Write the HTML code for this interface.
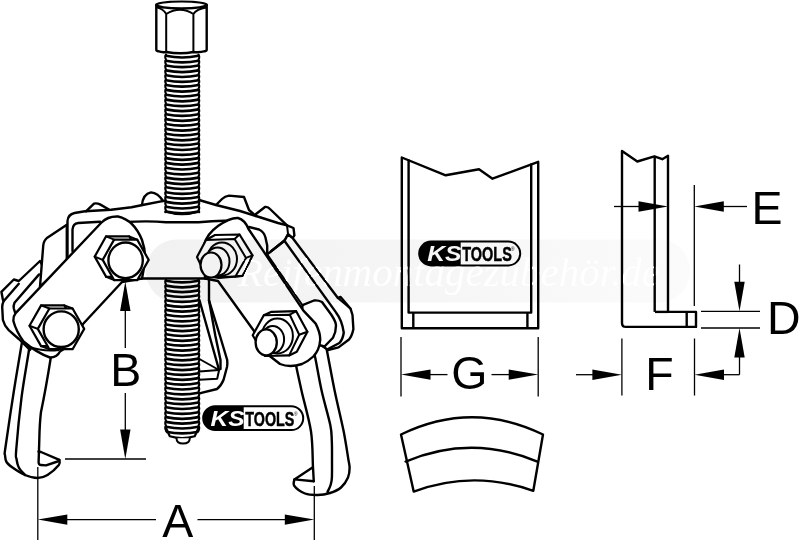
<!DOCTYPE html>
<html><head><meta charset="utf-8"><title>KS Tools</title>
<style>
html,body{margin:0;padding:0;background:#fff;}
body{width:800px;height:552px;overflow:hidden;}
svg{display:block;font-family:"Liberation Sans",sans-serif;}
</style></head><body>
<svg width="800" height="552" viewBox="0 0 800 552">
<rect width="800" height="552" fill="#fff"/>
<path d="M401.8,157.5 L445.7,175.3 L479.0,169.2 L492.5,178.7 L538.2,161.8 L538.2,328.3 L401.8,328.3 Z" fill="none" stroke="#000" stroke-width="2.4" stroke-linejoin="round" stroke-linecap="round" />
<path d="M408.6,160.5 L408.6,312.6 L531.2,312.6 L531.2,164.5" fill="none" stroke="#000" stroke-width="2.4" stroke-linejoin="round" stroke-linecap="round" />
<line x1="413.3" y1="312.6" x2="413.3" y2="328.3" stroke="#000" stroke-width="2.4"/>
<line x1="527.4" y1="312.6" x2="527.4" y2="328.3" stroke="#000" stroke-width="2.4"/>
<rect x="419.2" y="241.6" width="101" height="23.8" rx="11.9" fill="#fff" stroke="#000" stroke-width="2"/>
<path d="M431.09999999999997,241.6 H460.7 V265.4 H431.09999999999997 A11.9,11.9 0 0 1 431.09999999999997,241.6 Z" fill="#000"/>
<text x="461.5" y="261.1" font-size="21.4" font-weight="bold" font-style="italic" fill="#fff" text-anchor="end" textLength="34.3" lengthAdjust="spacingAndGlyphs">KS</text>
<text x="462.3" y="260.8" font-size="20.7" font-weight="bold" fill="#000" stroke="#000" stroke-width="0.5" textLength="49.5" lengthAdjust="spacingAndGlyphs">TOOLS</text>
<text x="510.9" y="251.1" font-size="4.8" fill="#000">®</text>
<line x1="401" y1="337" x2="401" y2="396.5" stroke="#000" stroke-width="1.3"/>
<line x1="538.2" y1="337" x2="538.2" y2="396.5" stroke="#000" stroke-width="1.3"/>
<polygon points="401,374.6 430.5,369.4 430.5,379.8" fill="#000"/>
<polygon points="538.2,374.6 508.7,379.8 508.7,369.4" fill="#000"/>
<line x1="430" y1="374.6" x2="447.5" y2="374.6" stroke="#000" stroke-width="1.3"/>
<line x1="491.5" y1="374.6" x2="509" y2="374.6" stroke="#000" stroke-width="1.3"/>
<text x="469.3" y="388.6" font-size="46.5" text-anchor="middle">G</text>
<path d="M401,434.5 Q472,400 543,434.5 L533.3,490.8 Q473,469.5 413.7,491.6 Z" fill="none" stroke="#000" stroke-width="2.4" stroke-linejoin="round" stroke-linecap="round" />
<path d="M405.6,461.6 Q471.5,434 537.4,461.6" fill="none" stroke="#000" stroke-width="2.4" stroke-linejoin="round" stroke-linecap="round" />
<path d="M622,151 L637.3,161.5 L654.4,156.3 L662.3,159.2 L668,155.8 L668,311.9 L696,311.9 L696,326.9 L626,326.9 Q622,326.9 622,322.9 Z" fill="none" stroke="#000" stroke-width="2.4" stroke-linejoin="round" stroke-linecap="round" />
<line x1="654.7" y1="156.3" x2="654.7" y2="311.9" stroke="#000" stroke-width="2.4"/>
<line x1="655" y1="311.9" x2="668" y2="311.9" stroke="#000" stroke-width="2.4"/>
<line x1="686.7" y1="311.9" x2="686.7" y2="326.9" stroke="#000" stroke-width="2.4"/>
<line x1="694.3" y1="185" x2="694.3" y2="306" stroke="#000" stroke-width="1.3"/>
<line x1="614" y1="206.5" x2="640" y2="206.5" stroke="#000" stroke-width="1.3"/>
<polygon points="668,206.5 638.5,211.7 638.5,201.3" fill="#000"/>
<polygon points="694.3,206.5 723.8,201.3 723.8,211.7" fill="#000"/>
<line x1="722" y1="206.5" x2="747" y2="206.5" stroke="#000" stroke-width="1.3"/>
<text x="766.9" y="223.6" font-size="46.5" text-anchor="middle">E</text>
<line x1="701" y1="311.3" x2="760" y2="311.3" stroke="#000" stroke-width="1.3"/>
<line x1="701" y1="328" x2="760" y2="328" stroke="#000" stroke-width="1.3"/>
<line x1="739.5" y1="264.5" x2="739.5" y2="283" stroke="#000" stroke-width="1.3"/>
<polygon points="739.5,311.3 734.3,281.8 744.7,281.8" fill="#000"/>
<polygon points="739.5,328 744.7,357.5 734.3,357.5" fill="#000"/>
<line x1="739.5" y1="356" x2="739.5" y2="374.7" stroke="#000" stroke-width="1.3"/>
<text x="783.9" y="334.2" font-size="46.5" text-anchor="middle">D</text>
<line x1="621.9" y1="338.5" x2="621.9" y2="395.5" stroke="#000" stroke-width="1.3"/>
<line x1="694.5" y1="338.5" x2="694.5" y2="395.5" stroke="#000" stroke-width="1.3"/>
<line x1="576" y1="374.7" x2="594" y2="374.7" stroke="#000" stroke-width="1.3"/>
<polygon points="621.9,374.7 592.4,379.9 592.4,369.5" fill="#000"/>
<polygon points="694.5,374.7 724.0,369.5 724.0,379.9" fill="#000"/>
<line x1="722" y1="374.7" x2="739.5" y2="374.7" stroke="#000" stroke-width="1.3"/>
<text x="659.5" y="389.7" font-size="46.5" text-anchor="middle">F</text>
<path d="M209,277.6 L209,300.4 L215.4,336 L220.5,360 L220.5,369" fill="none" stroke="#000" stroke-width="2.4" stroke-linejoin="round" stroke-linecap="round" />
<path d="M209,300.4 L220,336 L227.2,360 Q227.6,364 227,367 L223.5,380 Q221,386 217,389 L199.4,393.4" fill="none" stroke="#000" stroke-width="2.4" stroke-linejoin="round" stroke-linecap="round" />
<path d="M199.4,300.0 L219.0,369.8" fill="none" stroke="#000" stroke-width="2.4" stroke-linejoin="round" stroke-linecap="round" />
<path d="M199.4,359.0 L219.0,370.0 L199.4,371.5" fill="none" stroke="#000" stroke-width="2" stroke-linejoin="round" stroke-linecap="round" />
<path d="M219.0,370.5 L217.2,378.8 L199.4,379.8" fill="none" stroke="#000" stroke-width="2" stroke-linejoin="round" stroke-linecap="round" />
<path d="M24.0,335.0 C23.6,336.7 23.2,335.6 21.5,345.0 C19.8,354.4 16.5,374.5 13.8,391.5 C11.1,408.5 7.0,436.4 5.5,447.0 C4.0,457.6 4.8,452.5 5.0,455.0 C5.2,457.5 5.2,459.9 6.5,462.0 C7.8,464.1 9.4,465.3 12.5,467.5 C15.6,469.7 20.8,473.2 25.0,475.0 C29.2,476.8 33.8,478.0 37.5,478.0 C41.2,478.0 44.0,477.2 47.5,475.0 C51.0,472.8 56.8,467.5 58.8,465.0 C60.7,462.5 59.3,460.8 59.4,460.0" fill="#fff" stroke="#000" stroke-width="2.4" stroke-linejoin="round" stroke-linecap="round" />
<path d="M30.0,340.0 C29.8,341.7 30.4,340.4 29.0,350.0 C27.6,359.6 23.6,381.0 21.5,397.7 C19.4,414.4 17.0,439.8 16.2,450.0 C15.4,460.2 16.1,456.1 16.5,459.0 C16.9,461.9 17.3,464.8 18.8,467.5 C20.2,470.2 24.0,473.8 25.0,475.0" fill="none" stroke="#000" stroke-width="2.4" stroke-linejoin="round" stroke-linecap="round" />
<path d="M53,345 L50.6,358.75 Q46,388 40.9,412.5 Q39.6,424 39.3,440 L38.6,462.5 Q38.8,465 41,465 L46,465.4 L59,461" fill="none" stroke="#000" stroke-width="2.4" stroke-linejoin="round" stroke-linecap="round" />
<path d="M38.5,451.5 L41,452 L59.4,459.8" fill="none" stroke="#000" stroke-width="2.4" stroke-linejoin="round" stroke-linecap="round" />
<path d="M324.0,340.0 C324.4,341.4 324.7,339.9 326.5,348.5 C328.3,357.1 331.9,377.7 334.8,391.5 C337.7,405.3 341.4,420.2 343.7,431.5 C345.9,442.8 347.3,452.9 348.3,459.0 C349.3,465.1 349.7,464.9 349.6,468.0 C349.6,471.1 349.4,474.2 348.0,477.5 C346.6,480.8 344.0,484.9 341.0,487.5 C338.0,490.1 333.9,491.8 330.0,493.0 C326.1,494.2 321.7,494.9 317.5,495.0 C313.3,495.1 308.9,495.0 305.0,493.5 C301.1,492.0 296.2,488.4 294.4,486.0 C292.6,483.6 294.4,480.5 294.4,479.4" fill="#fff" stroke="#000" stroke-width="2.4" stroke-linejoin="round" stroke-linecap="round" />
<path d="M313.5,350.0 C313.8,351.5 314.1,352.1 315.5,359.0 C316.9,365.9 319.3,380.5 321.8,391.5 C324.3,402.5 328.6,416.8 330.3,425.0 C332.0,433.2 331.5,435.3 331.8,441.0 C332.1,446.7 332.0,452.9 332.0,459.0 C332.0,465.1 332.1,473.2 331.9,477.5 C331.7,481.8 331.3,482.6 330.6,485.0 C329.9,487.4 328.0,490.8 327.5,492.0" fill="none" stroke="#000" stroke-width="2.4" stroke-linejoin="round" stroke-linecap="round" />
<path d="M294.0,355.0 C294.5,357.5 295.7,363.9 297.0,370.0 C298.3,376.1 299.4,381.2 301.7,391.5 C304.0,401.8 309.1,418.8 311.0,431.5 C312.9,444.2 312.5,459.2 313.0,467.5 C313.5,475.8 313.6,478.9 313.8,481.2" fill="none" stroke="#000" stroke-width="2.4" stroke-linejoin="round" stroke-linecap="round" />
<path d="M312.5,467.5 L294.4,479.4 L313.8,481.2" fill="none" stroke="#000" stroke-width="2.4" stroke-linejoin="round" stroke-linecap="round" />
<path d="M40,261 L18.8,281 L13.8,279.5 L1.4,291.8 L2.9,299.8 L3.6,301.2 Q2.2,304 2.2,307 L2.9,320 Q4.5,326 8.7,330.2 L18.8,339 L30,350 L60,300 Z" fill="#fff" stroke="#000" stroke-width="2.4" stroke-linejoin="round" stroke-linecap="round" />
<path d="M18.8,283.8 L3.6,301.2" fill="none" stroke="#000" stroke-width="2.4" stroke-linejoin="round" stroke-linecap="round" />
<path d="M39.1,274.4 L14.5,302.7 Q13.2,306 13.8,308.5 L15.2,312.8" fill="none" stroke="#000" stroke-width="2.4" stroke-linejoin="round" stroke-linecap="round" />
<path d="M66.8,224.7 L47.3,237.7 Q43.5,241 43.2,246 L40,286.6 L66.8,262 Z" fill="#fff" stroke="#000" stroke-width="2.4" stroke-linejoin="round" stroke-linecap="round" />
<path d="M256,214 L265,207 Q268,206.5 270,209 L287,225.4 L293.5,228 L294.4,235.4 L292.6,238 L284.4,240.8 L267.2,254.4 L250,240 Z" fill="#fff" stroke="#000" stroke-width="2.4" stroke-linejoin="round" stroke-linecap="round" />
<path d="M287,225.4 L288,233.6 L292.6,238 M288,233.6 L284.4,240.8" fill="none" stroke="#000" stroke-width="2" stroke-linejoin="round" stroke-linecap="round" />
<path d="M267.2,254.4 L284.4,240.8 L288,234.5 L292.6,238 L337.9,298 L340.6,297 L350.6,308.8 L352.5,315 L353.4,329 Q352,336 349,339.5 L338.5,347.4 L328,350 L300,330 Z" fill="#fff" stroke="#000" stroke-width="2.4" stroke-linejoin="round" stroke-linecap="round" />
<path d="M284.4,240.8 L336,312.4 Q342,320 343.75,332.5 Q343,339 339.4,343 L328,349" fill="none" stroke="#000" stroke-width="2.4" stroke-linejoin="round" stroke-linecap="round" />
<path d="M337.9,298 L350.6,308.8" fill="none" stroke="#000" stroke-width="2" stroke-linejoin="round" stroke-linecap="round" />
<path d="M302.5,305.2 L314,300.5 Q318,300 322,302 L331.5,315 Q336,322 336,325.5 Q336,332 333,337.75 L324.5,346.5 L300,340 Z" fill="#fff" stroke="#000" stroke-width="2.4" stroke-linejoin="round" stroke-linecap="round" />
<path d="M67.5,256 L67.5,221 Q68,214.5 74.5,213 L85,211.3 L111,209.8 L131.5,207.2 L142.5,205 L165,200.6 L199,200 L216,205 L240,211 L256,216 L270,221 L270,260 L66.8,270 Z" fill="#fff" stroke="#000" stroke-width="0" stroke-linejoin="round" stroke-linecap="round" />
<path d="M86,211.3 L94,203.6 Q97,203 100,204.4 L109,209.5" fill="#fff" stroke="#000" stroke-width="2.4" stroke-linejoin="round" stroke-linecap="round" />
<path d="M142,205 Q143,194 151,192.4 Q158,193 163,201" fill="#fff" stroke="#000" stroke-width="2.4" stroke-linejoin="round" stroke-linecap="round" />
<path d="M216,205 L222,199 Q225,196 229,195.6 L244,197 L249,210 L256,216" fill="#fff" stroke="#000" stroke-width="2.4" stroke-linejoin="round" stroke-linecap="round" />
<path d="M67.5,256 L67.5,221 Q68,214.5 74.5,213 L85,211.3 L111,209.8 L131.5,207.2 L142.5,205 L165,200.6" fill="none" stroke="#000" stroke-width="2.4" stroke-linejoin="round" stroke-linecap="round" />
<path d="M199,200 L216,205 L240,211 L256,216 L278,223 L287,225.4" fill="none" stroke="#000" stroke-width="2.4" stroke-linejoin="round" stroke-linecap="round" />
<path d="M267.2,254.4 L302.5,305.2" fill="none" stroke="#000" stroke-width="2" stroke-linejoin="round" stroke-linecap="round" />
<path d="M249,227 L259,229.5 Q264,232 265.4,237.2 L267.2,245.4 L267.2,254.4 L284.4,240.8" fill="none" stroke="#000" stroke-width="2.4" stroke-linejoin="round" stroke-linecap="round" />
<path d="M72.5,251 L72.5,229.6 Q73,223.5 78.2,223 L100,221.7" fill="none" stroke="#000" stroke-width="2.4" stroke-linejoin="round" stroke-linecap="round" />
<rect x="166.0" y="54.6" width="32.5" height="157.4" fill="#fff"/>
<path d="M166.0,55.8 Q182.25,59.2 198.5,55.8 M166.0,60.7 Q182.25,64.1 198.5,60.7 M166.0,65.5 Q182.25,68.9 198.5,65.5 M166.0,70.4 Q182.25,73.8 198.5,70.4 M166.0,75.3 Q182.25,78.7 198.5,75.3 M166.0,80.2 Q182.25,83.6 198.5,80.2 M166.0,85.0 Q182.25,88.4 198.5,85.0 M166.0,89.9 Q182.25,93.3 198.5,89.9 M166.0,94.8 Q182.25,98.2 198.5,94.8 M166.0,99.6 Q182.25,103.0 198.5,99.6 M166.0,104.5 Q182.25,107.9 198.5,104.5 M166.0,109.4 Q182.25,112.8 198.5,109.4 M166.0,114.2 Q182.25,117.6 198.5,114.2 M166.0,119.1 Q182.25,122.5 198.5,119.1 M166.0,124.0 Q182.25,127.4 198.5,124.0 M166.0,128.9 Q182.25,132.3 198.5,128.9 M166.0,133.7 Q182.25,137.1 198.5,133.7 M166.0,138.6 Q182.25,142.0 198.5,138.6 M166.0,143.5 Q182.25,146.9 198.5,143.5 M166.0,148.3 Q182.25,151.7 198.5,148.3 M166.0,153.2 Q182.25,156.6 198.5,153.2 M166.0,158.1 Q182.25,161.5 198.5,158.1 M166.0,162.9 Q182.25,166.3 198.5,162.9 M166.0,167.8 Q182.25,171.2 198.5,167.8 M166.0,172.7 Q182.25,176.1 198.5,172.7 M166.0,177.6 Q182.25,181.0 198.5,177.6 M166.0,182.4 Q182.25,185.8 198.5,182.4 M166.0,187.3 Q182.25,190.7 198.5,187.3 M166.0,192.2 Q182.25,195.6 198.5,192.2 M166.0,197.0 Q182.25,200.4 198.5,197.0 M166.0,201.9 Q182.25,205.3 198.5,201.9 M166.0,206.8 Q182.25,210.2 198.5,206.8 M166.0,211.6 Q182.25,215.0 198.5,211.6 " fill="none" stroke="#000" stroke-width="2.7" stroke-linejoin="round" stroke-linecap="round" />
<path d="M166.0,54.6 Q164.4,57.0 166.0,59.5 Q164.4,61.9 166.0,64.3 Q164.4,66.8 166.0,69.2 Q164.4,71.6 166.0,74.1 Q164.4,76.5 166.0,79.0 Q164.4,81.4 166.0,83.8 Q164.4,86.3 166.0,88.7 Q164.4,91.1 166.0,93.6 Q164.4,96.0 166.0,98.4 Q164.4,100.9 166.0,103.3 Q164.4,105.7 166.0,108.2 Q164.4,110.6 166.0,113.0 Q164.4,115.5 166.0,117.9 Q164.4,120.3 166.0,122.8 Q164.4,125.2 166.0,127.7 Q164.4,130.1 166.0,132.5 Q164.4,135.0 166.0,137.4 Q164.4,139.8 166.0,142.3 Q164.4,144.7 166.0,147.1 Q164.4,149.6 166.0,152.0 Q164.4,154.4 166.0,156.9 Q164.4,159.3 166.0,161.7 Q164.4,164.2 166.0,166.6 Q164.4,169.0 166.0,171.5 Q164.4,173.9 166.0,176.4 Q164.4,178.8 166.0,181.2 Q164.4,183.7 166.0,186.1 Q164.4,188.5 166.0,191.0 Q164.4,193.4 166.0,195.8 Q164.4,198.3 166.0,200.7 Q164.4,203.1 166.0,205.6 Q164.4,208.0 166.0,210.4 Q164.4,212.9 166.0,212.0" fill="none" stroke="#000" stroke-width="2.0" stroke-linejoin="round" stroke-linecap="round" />
<path d="M198.5,54.6 Q200.1,57.0 198.5,59.5 Q200.1,61.9 198.5,64.3 Q200.1,66.8 198.5,69.2 Q200.1,71.6 198.5,74.1 Q200.1,76.5 198.5,79.0 Q200.1,81.4 198.5,83.8 Q200.1,86.3 198.5,88.7 Q200.1,91.1 198.5,93.6 Q200.1,96.0 198.5,98.4 Q200.1,100.9 198.5,103.3 Q200.1,105.7 198.5,108.2 Q200.1,110.6 198.5,113.0 Q200.1,115.5 198.5,117.9 Q200.1,120.3 198.5,122.8 Q200.1,125.2 198.5,127.7 Q200.1,130.1 198.5,132.5 Q200.1,135.0 198.5,137.4 Q200.1,139.8 198.5,142.3 Q200.1,144.7 198.5,147.1 Q200.1,149.6 198.5,152.0 Q200.1,154.4 198.5,156.9 Q200.1,159.3 198.5,161.7 Q200.1,164.2 198.5,166.6 Q200.1,169.0 198.5,171.5 Q200.1,173.9 198.5,176.4 Q200.1,178.8 198.5,181.2 Q200.1,183.7 198.5,186.1 Q200.1,188.5 198.5,191.0 Q200.1,193.4 198.5,195.8 Q200.1,198.3 198.5,200.7 Q200.1,203.1 198.5,205.6 Q200.1,208.0 198.5,210.4 Q200.1,212.9 198.5,212.0" fill="none" stroke="#000" stroke-width="2.0" stroke-linejoin="round" stroke-linecap="round" />
<path d="M166,211.5 Q182,217 198.5,211.5" fill="none" stroke="#000" stroke-width="2.2" stroke-linejoin="round" stroke-linecap="round" />
<path d="M110,222 Q182,218 235,220.5 L235,278.5 L110,278.5 Z" fill="#fff" stroke="#000" stroke-width="0" stroke-linejoin="round" stroke-linecap="round" />
<path d="M125,222 Q150,220.6 166,222.3 L198.5,222.3 Q215,220.5 228,220.8" fill="none" stroke="#000" stroke-width="2.4" stroke-linejoin="round" stroke-linecap="round" />
<rect x="166.0" y="279.5" width="32.5" height="156.5" fill="#fff"/>
<path d="M166.0,280.7 Q182.25,284.1 198.5,280.7 M166.0,285.6 Q182.25,289.0 198.5,285.6 M166.0,290.4 Q182.25,293.8 198.5,290.4 M166.0,295.3 Q182.25,298.7 198.5,295.3 M166.0,300.2 Q182.25,303.6 198.5,300.2 M166.0,305.1 Q182.25,308.5 198.5,305.1 M166.0,309.9 Q182.25,313.3 198.5,309.9 M166.0,314.8 Q182.25,318.2 198.5,314.8 M166.0,319.7 Q182.25,323.1 198.5,319.7 M166.0,324.5 Q182.25,327.9 198.5,324.5 M166.0,329.4 Q182.25,332.8 198.5,329.4 M166.0,334.3 Q182.25,337.7 198.5,334.3 M166.0,339.1 Q182.25,342.5 198.5,339.1 M166.0,344.0 Q182.25,347.4 198.5,344.0 M166.0,348.9 Q182.25,352.3 198.5,348.9 M166.0,353.8 Q182.25,357.2 198.5,353.8 M166.0,358.6 Q182.25,362.0 198.5,358.6 M166.0,363.5 Q182.25,366.9 198.5,363.5 M166.0,368.4 Q182.25,371.8 198.5,368.4 M166.0,373.2 Q182.25,376.6 198.5,373.2 M166.0,378.1 Q182.25,381.5 198.5,378.1 M166.0,383.0 Q182.25,386.4 198.5,383.0 M166.0,387.8 Q182.25,391.2 198.5,387.8 M166.0,392.7 Q182.25,396.1 198.5,392.7 M166.0,397.6 Q182.25,401.0 198.5,397.6 M166.0,402.5 Q182.25,405.9 198.5,402.5 M166.0,407.3 Q182.25,410.7 198.5,407.3 M166.0,412.2 Q182.25,415.6 198.5,412.2 M166.0,417.1 Q182.25,420.5 198.5,417.1 M166.0,421.9 Q182.25,425.3 198.5,421.9 M166.0,426.8 Q182.25,430.2 198.5,426.8 M166.0,431.7 Q182.25,435.1 198.5,431.7 " fill="none" stroke="#000" stroke-width="2.7" stroke-linejoin="round" stroke-linecap="round" />
<path d="M166.0,279.5 Q164.4,281.9 166.0,284.4 Q164.4,286.8 166.0,289.2 Q164.4,291.7 166.0,294.1 Q164.4,296.5 166.0,299.0 Q164.4,301.4 166.0,303.9 Q164.4,306.3 166.0,308.7 Q164.4,311.2 166.0,313.6 Q164.4,316.0 166.0,318.5 Q164.4,320.9 166.0,323.3 Q164.4,325.8 166.0,328.2 Q164.4,330.6 166.0,333.1 Q164.4,335.5 166.0,337.9 Q164.4,340.4 166.0,342.8 Q164.4,345.2 166.0,347.7 Q164.4,350.1 166.0,352.6 Q164.4,355.0 166.0,357.4 Q164.4,359.9 166.0,362.3 Q164.4,364.7 166.0,367.2 Q164.4,369.6 166.0,372.0 Q164.4,374.5 166.0,376.9 Q164.4,379.3 166.0,381.8 Q164.4,384.2 166.0,386.6 Q164.4,389.1 166.0,391.5 Q164.4,393.9 166.0,396.4 Q164.4,398.8 166.0,401.3 Q164.4,403.7 166.0,406.1 Q164.4,408.6 166.0,411.0 Q164.4,413.4 166.0,415.9 Q164.4,418.3 166.0,420.7 Q164.4,423.2 166.0,425.6 Q164.4,428.0 166.0,430.5 Q164.4,432.9 166.0,435.3" fill="none" stroke="#000" stroke-width="2.0" stroke-linejoin="round" stroke-linecap="round" />
<path d="M198.5,279.5 Q200.1,281.9 198.5,284.4 Q200.1,286.8 198.5,289.2 Q200.1,291.7 198.5,294.1 Q200.1,296.5 198.5,299.0 Q200.1,301.4 198.5,303.9 Q200.1,306.3 198.5,308.7 Q200.1,311.2 198.5,313.6 Q200.1,316.0 198.5,318.5 Q200.1,320.9 198.5,323.3 Q200.1,325.8 198.5,328.2 Q200.1,330.6 198.5,333.1 Q200.1,335.5 198.5,337.9 Q200.1,340.4 198.5,342.8 Q200.1,345.2 198.5,347.7 Q200.1,350.1 198.5,352.6 Q200.1,355.0 198.5,357.4 Q200.1,359.9 198.5,362.3 Q200.1,364.7 198.5,367.2 Q200.1,369.6 198.5,372.0 Q200.1,374.5 198.5,376.9 Q200.1,379.3 198.5,381.8 Q200.1,384.2 198.5,386.6 Q200.1,389.1 198.5,391.5 Q200.1,393.9 198.5,396.4 Q200.1,398.8 198.5,401.3 Q200.1,403.7 198.5,406.1 Q200.1,408.6 198.5,411.0 Q200.1,413.4 198.5,415.9 Q200.1,418.3 198.5,420.7 Q200.1,423.2 198.5,425.6 Q200.1,428.0 198.5,430.5 Q200.1,432.9 198.5,435.3" fill="none" stroke="#000" stroke-width="2.0" stroke-linejoin="round" stroke-linecap="round" />
<path d="M163,428.5 L169.5,437.5 L163,438.5 Z M201.5,428.5 L195,437.5 L201.5,438.5 Z" fill="#fff" stroke="#000" stroke-width="0" stroke-linejoin="round" stroke-linecap="round" />
<path d="M166,428 L169.8,436.3 Q182,440 194.7,436.3 L198.5,428" fill="none" stroke="#000" stroke-width="2.2" stroke-linejoin="round" stroke-linecap="round" />
<path d="M176.5,438.3 Q176.5,443.6 183,443.6 Q189.8,443.6 189.8,438.3" fill="#fff" stroke="#000" stroke-width="2" stroke-linejoin="round" stroke-linecap="round" />
<path d="M140,278.5 L208,278.5" fill="none" stroke="#000" stroke-width="2.4" stroke-linejoin="round" stroke-linecap="round" />
<path d="M156.3,4.8 L156.3,49.5 Q156.3,51 158,51.2 Q162,52.6 166.2,52 Q181,54.6 193.4,52 Q200,52.6 205,51.2 Q206.7,51 206.7,49.5 L206.7,4.8 Z" fill="#fff" stroke="#000" stroke-width="2.4" stroke-linejoin="round" stroke-linecap="round" />
<ellipse cx="181.5" cy="4.9" rx="25.2" ry="3.4" fill="#fff" stroke="#000" stroke-width="2.2"/>
<path d="M166.2,14 L166.2,52 M193.4,14 L193.4,52 M166.2,14 Q180,5.4 193.4,14 M156.8,7.4 Q163.5,9 166.2,14 M206.2,7.4 Q196.5,9 193.4,14" fill="none" stroke="#000" stroke-width="2" stroke-linejoin="round" stroke-linecap="round" />
<path d="M101.5,222.5 Q108,216 118,216.5 Q134,220 142,240 Q146,252 145,262 L142,278.5 L122,282 L83,324 L70,345 L60,351.5 Q57,357.5 50,357.5 Q37,353 23.5,341.5 Q16,331 13.4,321 Q13.2,316 15.9,312.8 Z" fill="#fff" stroke="#000" stroke-width="2.4" stroke-linejoin="round" stroke-linecap="round" />
<path d="M28,346.5 Q43.75,352 58.75,350" fill="none" stroke="#000" stroke-width="2" stroke-linejoin="round" stroke-linecap="round" />
<path d="M94.7,256.6 L106.1,236.3 L129.2,236.3 L140.7,256.6 L129.2,276.9 L106.2,276.9 Z" fill="#fff" stroke="#000" stroke-width="2.2" stroke-linejoin="round" stroke-linecap="round" />
<path d="M102.7,259.9 L114.1,239.6 L137.2,239.6 L148.7,259.9 L137.2,280.2 L114.2,280.2 Z" fill="#fff" stroke="#000" stroke-width="2.2" stroke-linejoin="round" stroke-linecap="round" />
<path d="M102.7,259.9 L94.7,256.6" fill="none" stroke="#000" stroke-width="2" stroke-linejoin="round" stroke-linecap="round" />
<path d="M114.1,239.6 L106.1,236.3" fill="none" stroke="#000" stroke-width="2" stroke-linejoin="round" stroke-linecap="round" />
<path d="M137.2,239.6 L129.2,236.3" fill="none" stroke="#000" stroke-width="2" stroke-linejoin="round" stroke-linecap="round" />
<path d="M114.2,280.2 L106.2,276.9" fill="none" stroke="#000" stroke-width="2" stroke-linejoin="round" stroke-linecap="round" />
<ellipse cx="125.6" cy="260.3" rx="17.2" ry="17.8" fill="#fff" stroke="#000" stroke-width="2.4"/>
<path d="M29.5,325.8 L41.1,305.4 L64.3,305.4 L75.9,325.8 L64.3,346.1 L41.1,346.1 Z" fill="#fff" stroke="#000" stroke-width="2.2" stroke-linejoin="round" stroke-linecap="round" />
<path d="M37.8,328.9 L49.4,308.5 L72.6,308.5 L84.2,328.9 L72.6,349.2 L49.4,349.2 Z" fill="#fff" stroke="#000" stroke-width="2.2" stroke-linejoin="round" stroke-linecap="round" />
<path d="M37.8,328.9 L29.5,325.8" fill="none" stroke="#000" stroke-width="2" stroke-linejoin="round" stroke-linecap="round" />
<path d="M49.4,308.5 L41.1,305.4" fill="none" stroke="#000" stroke-width="2" stroke-linejoin="round" stroke-linecap="round" />
<path d="M72.6,308.5 L64.3,305.4" fill="none" stroke="#000" stroke-width="2" stroke-linejoin="round" stroke-linecap="round" />
<path d="M49.4,349.2 L41.1,346.1" fill="none" stroke="#000" stroke-width="2" stroke-linejoin="round" stroke-linecap="round" />
<ellipse cx="61.2" cy="329.2" rx="17.6" ry="17.8" fill="#fff" stroke="#000" stroke-width="2.4"/>
<path d="M204.4,244 Q207,234 218,226 Q230,217.5 238,218 Q245,220 248.5,229 L303.4,310.6 L315.7,323.6 Q320.5,333 320.2,340 Q319.5,350 313.3,356.5 Q308,361.5 302,364 Q290,368 280,364 L262,350 L254,331 L218,281 L205,278.5 Z" fill="#fff" stroke="#000" stroke-width="2.4" stroke-linejoin="round" stroke-linecap="round" />
<path d="M197.0,257.0 L206.0,240.0 L215.0,235.0 L239.5,234.5 L252.5,255.4 L242.7,275.8 L219.0,278.0 L206.0,276.0 Z" fill="#fff" stroke="#000" stroke-width="2.2" stroke-linejoin="round" stroke-linecap="round" />
<path d="M206.0,240.0 L234.6,239.0 L246.0,257.9 L235.4,276.6 L207.0,277.0" fill="none" stroke="#000" stroke-width="2" stroke-linejoin="round" stroke-linecap="round" />
<path d="M234.6,239.0 L239.5,234.5" fill="none" stroke="#000" stroke-width="2" stroke-linejoin="round" stroke-linecap="round" />
<path d="M246.0,257.9 L252.5,255.4" fill="none" stroke="#000" stroke-width="2" stroke-linejoin="round" stroke-linecap="round" />
<path d="M235.4,276.6 L242.7,275.8" fill="none" stroke="#000" stroke-width="2" stroke-linejoin="round" stroke-linecap="round" />
<ellipse cx="222" cy="259" rx="15" ry="16.5" fill="#fff" stroke="#000" stroke-width="2"/>
<ellipse cx="217.5" cy="261.5" rx="12" ry="14" fill="#fff" stroke="#000" stroke-width="2"/>
<ellipse cx="211" cy="265" rx="10.5" ry="12.5" fill="#fff" stroke="#000" stroke-width="2.2"/>
<path d="M252.7,335.3 L263.8,315.3 L271.5,311.8 L296.2,311.2 L307.4,331.8 L296.8,351.8 L289.2,355.4 L265.0,356.0 Z" fill="#fff" stroke="#000" stroke-width="2.2" stroke-linejoin="round" stroke-linecap="round" />
<path d="M263.8,315.3 L289.8,314.7 L299.2,334.7 L289.2,355.4" fill="none" stroke="#000" stroke-width="2" stroke-linejoin="round" stroke-linecap="round" />
<path d="M289.8,314.7 L296.2,311.2" fill="none" stroke="#000" stroke-width="2" stroke-linejoin="round" stroke-linecap="round" />
<path d="M299.2,334.7 L307.4,331.8" fill="none" stroke="#000" stroke-width="2" stroke-linejoin="round" stroke-linecap="round" />
<ellipse cx="277.4" cy="336" rx="15.5" ry="17.4" fill="#fff" stroke="#000" stroke-width="2"/>
<ellipse cx="272.7" cy="339.5" rx="11.4" ry="13.5" fill="#fff" stroke="#000" stroke-width="2"/>
<ellipse cx="266.2" cy="342.4" rx="10.6" ry="13" fill="#fff" stroke="#000" stroke-width="2.3"/>
<rect x="203.2" y="406.3" width="100" height="23.8" rx="11.9" fill="#fff" stroke="#000" stroke-width="2"/>
<path d="M215.1,406.3 H243.7 V430.1 H215.1 A11.9,11.9 0 0 1 215.1,406.3 Z" fill="#000"/>
<text x="244.5" y="425.8" font-size="21.4" font-weight="bold" font-style="italic" fill="#fff" text-anchor="end" textLength="34.0" lengthAdjust="spacingAndGlyphs">KS</text>
<text x="245.3" y="425.5" font-size="20.7" font-weight="bold" fill="#000" stroke="#000" stroke-width="0.5" textLength="49.0" lengthAdjust="spacingAndGlyphs">TOOLS</text>
<text x="293.9" y="415.8" font-size="4.8" fill="#000">®</text>
<line x1="37.8" y1="467" x2="37.8" y2="540" stroke="#000" stroke-width="1.3"/>
<line x1="314.3" y1="486" x2="314.3" y2="540" stroke="#000" stroke-width="1.3"/>
<polygon points="37.8,519.6 67.3,514.4 67.3,524.8" fill="#000"/>
<polygon points="314.3,519.6 284.8,524.8 284.8,514.4" fill="#000"/>
<line x1="66" y1="519.6" x2="156" y2="519.6" stroke="#000" stroke-width="1.3"/>
<line x1="197.5" y1="519.6" x2="286" y2="519.6" stroke="#000" stroke-width="1.3"/>
<text x="177.75" y="537" font-size="46.5" text-anchor="middle">A</text>
<line x1="65" y1="459" x2="146" y2="459" stroke="#000" stroke-width="1.3"/>
<polygon points="125.3,281.6 130.5,311.1 120.1,311.1" fill="#000"/>
<polygon points="125.3,459 120.1,429.5 130.5,429.5" fill="#000"/>
<line x1="125.3" y1="309" x2="125.3" y2="348" stroke="#000" stroke-width="1.3"/>
<line x1="125.3" y1="393" x2="125.3" y2="431" stroke="#000" stroke-width="1.3"/>
<text x="125.7" y="386" font-size="46.5" text-anchor="middle">B</text>
<defs><linearGradient id="wmg" x1="0" x2="1" y1="0" y2="0"><stop offset="0" stop-color="#f1f1f1"/><stop offset="0.55" stop-color="#f6f6f6"/><stop offset="1" stop-color="#fbfbfb"/></linearGradient></defs><rect x="146" y="239.5" width="544" height="63" rx="31" fill="url(#wmg)" style="mix-blend-mode:multiply"/>
<text x="238" y="286" font-family="'Liberation Serif',serif" font-style="italic" font-size="40" fill="#ffffff" style="mix-blend-mode:overlay" textLength="422" lengthAdjust="spacingAndGlyphs">Reifenmontagezubehör.de</text>
</svg>
</body></html>
